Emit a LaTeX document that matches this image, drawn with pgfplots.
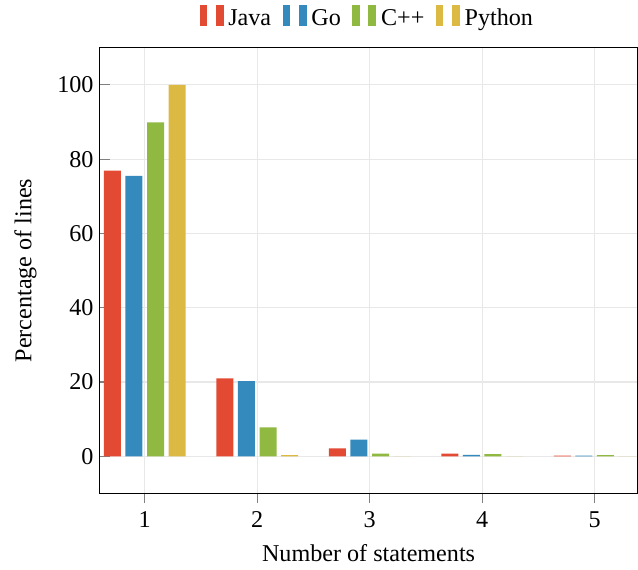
\documentclass[border=0pt]{standalone}
\usepackage{fontspec}
\setmainfont[Scale=1.05]{Liberation Serif}
\usepackage{pgfplots}
\pgfplotsset{compat=1.18}
\definecolor{cjava}{RGB}{227,74,51}
\definecolor{cgo}{RGB}{52,138,189}
\definecolor{ccpp}{RGB}{143,185,64}
\definecolor{cpy}{RGB}{220,185,67}
\begin{document}
\begin{tikzpicture}
\begin{axis}[
  width=234pt, height=194pt, scale only axis,
  ybar, bar width=7.4pt,
  ymin=-10, ymax=110,
  xmin=0.6, xmax=5.38,
  xtick={1,2,3,4,5},
  ytick={0,20,40,60,80,100},
  grid=major,
  grid style={gray!18, line width=0.5pt},
  xtick align=outside,
  major tick style={gray, line width=0.5pt},
  tick pos=left,
  yticklabel style={xshift=1pt},
  xlabel={Number of statements},
  ylabel={Percentage of lines},
  ylabel style={inner ysep=6.3pt, yshift=-1pt},
  legend style={at={(0.5,1.019)}, anchor=south, draw=none, legend columns=4, /tikz/every even column/.append style={column sep=3pt}},
  legend image code/.code={\fill (0pt,-3pt) rectangle (3.3pt,6.3pt); \fill (7pt,-3pt) rectangle (10.5pt,6.3pt);},
  /pgf/number format/assume math mode=true,
]
\addplot[fill=cjava, draw=none] coordinates {(1,76.9) (2,21.0) (3,2.1) (4,0.7) (5,0.2)};
\addplot[fill=cgo, draw=none] coordinates {(1,75.5) (2,20.2) (3,4.5) (4,0.4) (5,0.2)};
\addplot[fill=ccpp, draw=none] coordinates {(1,89.9) (2,7.8) (3,0.7) (4,0.6) (5,0.3)};
\addplot[fill=cpy, draw=none] coordinates {(1,100) (2,0.3) (3,0) (4,0) (5,0)};
\legend{Java,Go,C++,Python}
\end{axis}
\end{tikzpicture}
\end{document}
